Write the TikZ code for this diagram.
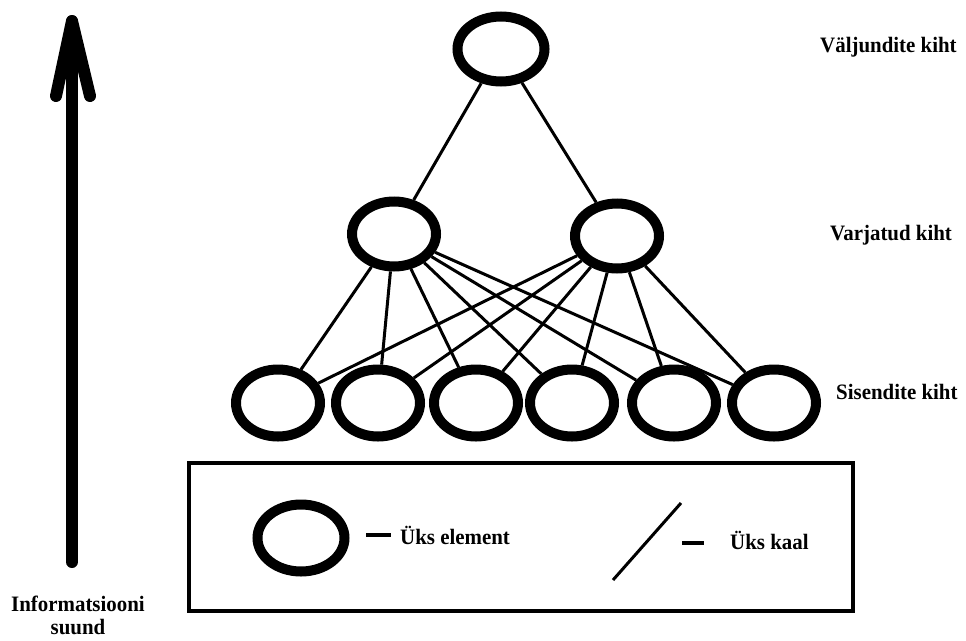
\documentclass[tikz,border=0pt]{standalone}
\usepackage{fontspec}
\setmainfont{Liberation Serif}[FakeStretch=0.95]
\usetikzlibrary{shapes.geometric}
\begin{document}
\begin{tikzpicture}[x=1pt,y=-1pt,
  unit/.style={ellipse, draw, line width=10pt, fill=white, inner sep=0pt},
  inunit/.style={unit, minimum width=84pt, minimum height=67pt},
  hidunit/.style={unit, minimum width=84pt, minimum height=65pt},
  wt/.style={line width=3pt},
  dashmark/.style={line width=4pt},
  arrowline/.style={line width=12pt, line cap=round, line join=round},
  lab/.style={font=\fontsize{22}{25}\selectfont\bfseries, inner sep=0pt}]
\useasboundingbox (0,0) rectangle (966,640);
% nodes
\node[unit, minimum width=87pt, minimum height=65pt] (o) at (501,49) {};
\node[hidunit] (h1) at (394,234) {};
\node[hidunit] (h2) at (617,236) {};
\foreach \i/\x in {1/278,2/378,3/476,4/572,5/674,6/774}
  \node[inunit] (i\i) at (\x,403) {};
% connections
\draw[wt] (o) -- (h1);
\draw[wt] (o) -- (h2);
\foreach \i in {1,...,6} {
  \draw[wt] (h1) -- (i\i);
  \draw[wt] (h2) -- (i\i);
}
% labels
\node[lab, anchor=base west] (lout) at (820,52) {Väljundite kiht};
\node[lab, anchor=base west] (lhid) at (830,240) {Varjatud kiht};
\node[lab, anchor=base west] (lin) at (836,399) {Sisendite kiht};
% arrow
\coordinate (abot) at (72,562);
\coordinate (atip) at (72,21);
\coordinate (al) at (56,96);
\coordinate (ar) at (90,96);
\draw[arrowline] (abot) -- (atip);
\draw[arrowline] (al) -- (atip) -- (ar);
\node[lab, anchor=base] (info1) at (78,611) {Informatsiooni};
\node[lab, anchor=base] (info2) at (78,634) {suund};
% legend
\node[draw, line width=3.5pt, minimum width=664pt, minimum height=148pt, inner sep=0pt] (legend) at (521,537) {};
\node[unit, minimum width=87pt, minimum height=67pt] (lc) at (301,538) {};
\coordinate (d1a) at (366,535);
\coordinate (d1b) at (391,535);
\draw[dashmark] (d1a) -- (d1b);
\node[lab, anchor=base west] (lel) at (400,544) {Üks element};
\coordinate (sa) at (613,580);
\coordinate (sb) at (681,503);
\draw[wt] (sa) -- (sb);
\coordinate (d2a) at (682,543);
\coordinate (d2b) at (704,543);
\draw[dashmark] (d2a) -- (d2b);
\node[lab, anchor=base west] (lka) at (730,549) {Üks kaal};
\end{tikzpicture}
\end{document}
